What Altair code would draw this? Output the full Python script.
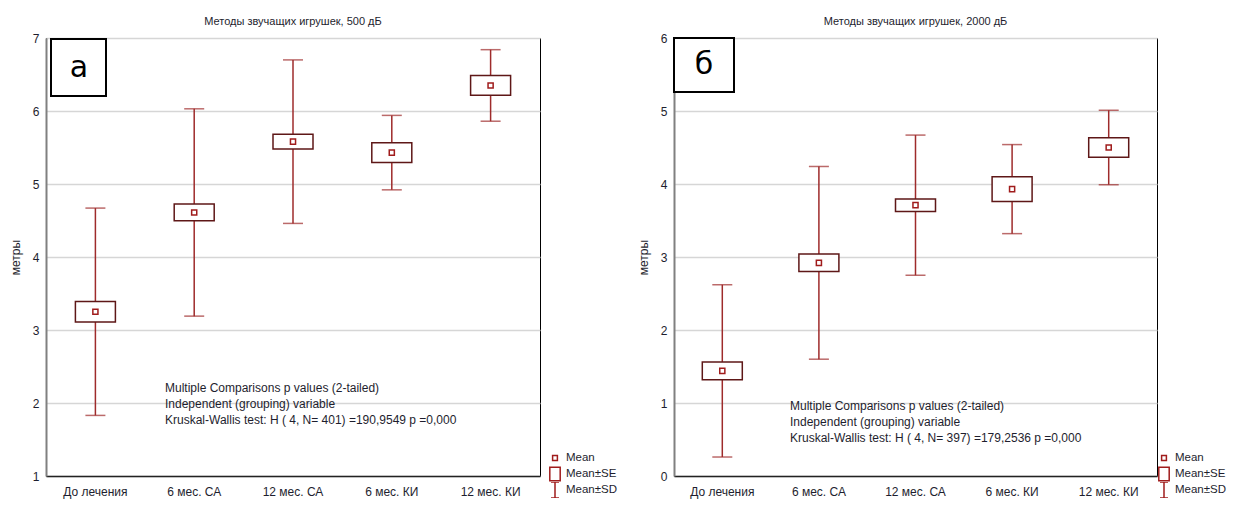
import altair as alt
import pandas as pd

cats = ["До лечения", "6 мес. СА", "12 мес. СА", "6 мес. КИ", "12 мес. КИ"]

a_mean = [3.25, 4.61, 5.58, 5.43, 6.35]
a_se = [0.14, 0.115, 0.10, 0.135, 0.135]
a_sd = [1.42, 1.42, 1.12, 0.51, 0.49]

b_mean = [1.44, 2.92, 3.71, 3.93, 4.50]
b_se = [0.12, 0.12, 0.085, 0.17, 0.135]
b_sd = [1.18, 1.32, 0.96, 0.61, 0.51]

a_title = "Методы звучащих игрушек, 500 дБ"
b_title = "Методы звучащих игрушек, 2000 дБ"
y_title = "метры"

a_note = ["Multiple Comparisons p values (2-tailed)",
          "Independent (grouping) variable",
          "Kruskal-Wallis test: H ( 4, N= 401) =190,9549 p =0,000"]
b_note = ["Multiple Comparisons p values (2-tailed)",
          "Independent (grouping) variable",
          "Kruskal-Wallis test: H ( 4, N= 397) =179,2536 p =0,000"]
a_note_y = 2.21
b_note_y = 0.955

legend_items = ["Mean", "Mean±SE", "Mean±SD"]
legend_paths = ["M-0.3,-0.3H0.3V0.3H-0.3Z",
                "M-0.65,-0.85H0.65V0.85H-0.65Z",
                "M-0.5,-1H0.5M0,-1V1M-0.5,1H0.5"]

SD_COLOR = "#9e2b2b"
BOX_COLOR = "#5e1717"
MEAN_COLOR = "#a01c1c"
TEXT_COLOR = "#1e1e2e"
FONT = "Liberation Sans"
H = 438


def panel(means, ses, sds, title, ydom, letter, note, note_y, w, box, lpos, note_x, legx):
    df = pd.DataFrame({"cat": cats, "mean": means, "se": ses, "sd": sds})
    base = alt.Chart(df).transform_calculate(
        se_lo="datum.mean - datum.se", se_hi="datum.mean + datum.se",
        sd_lo="datum.mean - datum.sd", sd_hi="datum.mean + datum.sd")
    x = alt.X("cat:N", sort=cats, title=None,
              scale=alt.Scale(paddingInner=0, paddingOuter=0),
              axis=alt.Axis(labelAngle=0, labelPadding=10))
    yscale = alt.Scale(domain=ydom, nice=False, zero=False)
    yaxis = alt.Axis(values=list(range(ydom[0], ydom[1] + 1)), format="d", title=y_title)

    sd_rule = base.mark_rule(color=SD_COLOR, strokeWidth=1.5).encode(
        x=x, y=alt.Y("sd_lo:Q", scale=yscale, axis=yaxis), y2="sd_hi:Q")
    cap_hi = base.mark_tick(color=SD_COLOR, size=20, thickness=1.5, orient="horizontal").encode(
        x=x, y=alt.Y("sd_hi:Q", scale=yscale))
    cap_lo = base.mark_tick(color=SD_COLOR, size=20, thickness=1.5, orient="horizontal").encode(
        x=x, y=alt.Y("sd_lo:Q", scale=yscale))
    se_box = base.mark_bar(fill="white", stroke=BOX_COLOR, strokeWidth=1.5, size=40).encode(
        x=x, y=alt.Y("se_lo:Q", scale=yscale), y2="se_hi:Q")
    mean_pt = base.mark_point(shape="square", size=26, filled=True, fill="white",
                              stroke=MEAN_COLOR, strokeWidth=1.5, opacity=1).encode(
        x=x, y=alt.Y("mean:Q", scale=yscale))

    leg = alt.Chart(pd.DataFrame({"item": legend_items})).mark_point(
        opacity=0, color=MEAN_COLOR).encode(
        shape=alt.Shape("item:N", sort=legend_items,
                        scale=alt.Scale(domain=legend_items, range=legend_paths),
                        legend=alt.Legend(title=None, orient="none", legendX=legx, legendY=H - 26,
                                          symbolSize=256, symbolStrokeColor=MEAN_COLOR,
                                          symbolFillColor="white", symbolStrokeWidth=1.5,
                                          symbolOpacity=1, labelFontSize=11.5, labelFont=FONT,
                                          labelColor=TEXT_COLOR, rowPadding=0, labelOffset=2,
                                          clipHeight=16, symbolOffset=0, padding=0)))

    note_df = pd.DataFrame({"t": ["\n".join(note)]})
    note_txt = alt.Chart(note_df).mark_text(
        align="left", baseline="middle", lineBreak="\n", lineHeight=16, fontSize=12,
        font=FONT, color=TEXT_COLOR).encode(
        x=alt.value(note_x), y=alt.Y(datum=note_y, scale=yscale), text="t:N")

    let_df = pd.DataFrame({"letter": [letter]})
    let_box = alt.Chart(let_df).mark_rect(fill="white", stroke="black", strokeWidth=2).encode(
        x=alt.value(box[0]), x2=alt.value(box[1]), y=alt.value(box[2]), y2=alt.value(box[3]))
    let_txt = alt.Chart(let_df).mark_text(fontSize=30, font="DejaVu Sans", color="black",
                                          align="center", baseline="middle").encode(
        x=alt.value(lpos[0]), y=alt.value(lpos[1]), text="letter:N")

    return alt.layer(sd_rule, cap_hi, cap_lo, se_box, mean_pt, leg, note_txt, let_box, let_txt).properties(
        width=w, height=H,
        title=alt.Title(title, fontSize=11, fontWeight="normal", font=FONT, color=TEXT_COLOR,
                        offset=8, dy=3))


left = panel(a_mean, a_se, a_sd, a_title, [1, 7], "а", a_note, a_note_y, 494,
             (5, 60, 1, 58), (33, 30), 119, 500)
right = panel(b_mean, b_se, b_sd, b_title, [0, 6], "б", b_note, b_note_y, 483,
              (0, 60, 0, 54), (30, 27), 116, 481)

chart = alt.hconcat(left, right, spacing=17).resolve_scale(
    y="independent", shape="independent").resolve_legend(shape="independent").configure_view(
    stroke="black", strokeWidth=1).configure_axis(
    labelFont=FONT, titleFont=FONT, labelFontSize=12, titleFontSize=12,
    labelColor=TEXT_COLOR, titleColor=TEXT_COLOR, titleFontWeight="normal").configure_axisY(
    grid=True, gridColor="#d6d6d6", gridWidth=1.5, domainColor="#808080", domainWidth=2,
    ticks=False, labelPadding=7, titlePadding=10).configure_axisX(
    grid=False, domainColor="#222222", domainWidth=1.5, ticks=False).properties(
    padding={"left": 0, "top": 7, "right": 0, "bottom": 0})

chart.save("out.html", embed_options={"renderer": "svg", "actions": False})
